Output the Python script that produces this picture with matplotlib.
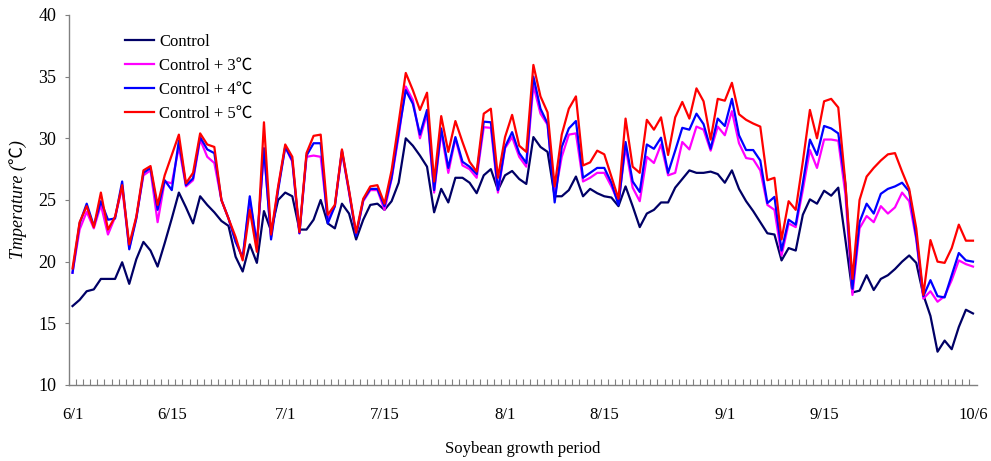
#!/usr/bin/env python3
"""
Temperatura diaria del periodo de crecimiento de la soja (control y calentamiento)
"""

import numpy as np
import pandas as pd
import matplotlib
matplotlib.use('Agg')
import matplotlib.pyplot as plt

# Días de 6/1 a 10/6
dates = pd.date_range('2015-06-01', '2015-10-06', freq='D')
day_labels = [f'{d.month}/{d.day}' for d in dates]

tick_labels = ['6/1', '6/15', '7/1', '7/15', '8/1', '8/15', '9/1', '9/15', '10/6']

control = [
    16.4, 16.9, 17.6, 17.75, 18.6, 18.6, 18.6, 19.95, 18.2, 20.2,
    21.6, 20.9, 19.6, 21.5, 23.5, 25.6, 24.4, 23.1, 25.3, 24.6,
    24.0, 23.3, 22.9, 20.4, 19.2, 21.4, 19.9, 24.1, 22.5, 25.0,
    25.6, 25.3, 22.6, 22.6, 23.4, 25.0, 23.1, 22.7, 24.7, 23.9,
    21.8, 23.4, 24.6, 24.7, 24.2, 24.9, 26.4, 30.0, 29.4, 28.6,
    27.7, 24.0, 25.9, 24.8, 26.8, 26.8, 26.4, 25.55, 27.0, 27.5,
    25.8, 27.0, 27.35, 26.7, 26.3, 30.1, 29.3, 28.9, 25.3, 25.3,
    25.8, 26.9, 25.3, 25.9, 25.55, 25.3, 25.2, 24.5, 26.1, 24.5,
    22.8, 23.9, 24.2, 24.8, 24.8, 26.0, 26.7, 27.4, 27.2, 27.2,
    27.3, 27.1, 26.4, 27.4, 25.9, 24.9, 24.1, 23.2, 22.3, 22.2,
    20.1, 21.1, 20.9, 23.8, 25.05, 24.7, 25.75, 25.35, 26.0, 21.8,
    17.5, 17.65, 18.9, 17.7, 18.6, 18.9, 19.4, 20.0, 20.5, 19.9,
    17.3, 15.6, 12.7, 13.6, 12.9, 14.7, 16.1, 15.8,
]

plus3 = [
    19.1, 22.6, 24.05, 22.7, 24.6, 22.2, 23.6, 26.0, 21.1, 23.6,
    27.0, 27.4, 23.2, 26.5, 26.35, 29.3, 26.1, 26.6, 29.9, 28.5,
    28.0, 25.0, 23.5, 21.7, 20.3, 25.0, 21.5, 29.0, 22.0, 26.0,
    29.3, 28.1, 22.3, 28.5, 28.6, 28.5, 23.4, 24.5, 28.9, 25.6,
    22.2, 24.9, 25.8, 25.8, 24.2, 26.7, 30.2, 34.2, 33.1, 30.0,
    32.0, 25.6, 30.5, 27.2, 30.0, 27.8, 27.5, 26.8, 30.9, 30.85,
    25.6, 29.2, 30.1, 28.5, 27.7, 34.3, 32.0, 31.1, 25.3, 28.5,
    30.3, 30.4, 26.5, 26.8, 27.2, 27.2, 26.1, 24.8, 29.3, 26.0,
    24.9, 28.5, 28.0, 29.5, 27.0, 27.2, 29.7, 29.1, 30.95, 30.7,
    29.0, 30.95, 30.25, 32.2, 29.6, 28.4, 28.3, 27.4, 24.6, 24.2,
    20.5, 23.1, 22.8, 25.8, 29.05, 27.6, 29.9, 29.9, 29.8, 25.5,
    17.3, 22.7, 23.7, 23.2, 24.5, 23.9, 24.4, 25.6, 24.9, 21.8,
    17.0, 17.6, 16.75, 17.2, 18.5, 20.1, 19.8, 19.6,
]

plus4 = [
    19.1, 23.1, 24.7, 22.9, 24.9, 23.4, 23.5, 26.5, 21.0, 23.5,
    27.2, 27.6, 24.2, 26.6, 25.8, 29.8, 26.2, 26.75, 30.1, 29.1,
    28.8, 25.0, 23.5, 21.6, 20.3, 25.3, 21.35, 29.2, 21.8, 25.8,
    29.3, 28.2, 22.3, 28.6, 29.6, 29.6, 23.1, 24.5, 29.0, 25.7,
    22.1, 25.0, 25.9, 25.9, 24.5, 26.8, 30.5, 33.9, 32.8, 30.3,
    32.3, 25.8, 30.8, 27.6, 30.1, 28.1, 27.7, 27.1, 31.35, 31.3,
    25.8, 29.3, 30.5, 28.8, 28.0, 35.0, 32.4, 31.2, 24.8, 29.3,
    30.8, 31.4, 26.8, 27.2, 27.6, 27.6, 26.4, 24.6, 29.7, 26.5,
    25.65, 29.5, 29.15, 30.05, 27.2, 29.0, 30.85, 30.7, 32.0, 31.15,
    29.15, 31.6, 31.0, 33.2, 30.25, 29.05, 29.05, 28.2, 24.75, 25.25,
    20.9, 23.4, 23.0, 26.35, 29.9, 28.65, 31.0, 30.8, 30.4, 26.3,
    17.8, 23.2, 24.7, 23.9, 25.5, 25.9, 26.1, 26.4, 25.7, 22.0,
    17.2, 18.5, 17.2, 17.1, 18.9, 20.7, 20.1, 20.0,
]

plus5 = [
    19.45, 23.2, 24.5, 22.8, 25.6, 22.6, 23.65, 26.2, 21.4, 23.65,
    27.4, 27.75, 24.6, 27.0, 28.65, 30.3, 26.35, 27.2, 30.4, 29.5,
    29.3, 25.0, 23.5, 22.0, 20.1, 24.2, 20.8, 31.3, 22.2, 26.1,
    29.5, 28.5, 22.4, 28.8, 30.2, 30.3, 23.8, 24.6, 29.1, 25.8,
    22.35, 25.1, 26.1, 26.2, 24.7, 27.4, 31.3, 35.3, 33.9, 32.3,
    33.7, 26.5, 31.8, 28.9, 31.4, 29.7, 28.1, 27.3, 32.0, 32.4,
    26.8, 30.1, 31.9, 29.4, 28.9, 35.95, 33.4, 32.1, 26.1, 30.3,
    32.4, 33.4, 27.8, 28.05, 29.0, 28.7, 26.9, 25.1, 31.6, 27.7,
    27.2, 31.5, 30.7, 31.7, 28.65, 31.7, 32.95, 31.6, 34.05, 33.0,
    29.9, 33.2, 33.05, 34.5, 31.95, 31.5, 31.2, 30.95, 26.6, 26.8,
    21.8, 24.9, 24.2, 28.1, 32.3, 30.0, 33.0, 33.2, 32.5, 26.4,
    18.6, 25.0, 26.9, 27.6, 28.2, 28.7, 28.8, 27.3, 25.9, 22.7,
    17.3, 21.75, 20.0, 19.9, 21.1, 23.0, 21.7, 21.7,
]

series_names = ['Control', 'Control + 3℃', 'Control + 4℃', 'Control + 5℃']
series_colors = ['#000066', '#FF00FF', '#0000FF', '#FF0000']

plt.rcParams['font.family'] = ['Liberation Serif', 'Noto Sans CJK SC']
plt.rcParams['font.size'] = 11

fig = plt.figure(figsize=(9.91, 4.61), dpi=100)
ax = fig.add_axes([0.0696, 0.1649, 0.9158, 0.8026])

x = np.arange(len(day_labels))
for vals, name, col in zip([control, plus3, plus4, plus5], series_names, series_colors):
    ax.plot(x, vals, color=col, linewidth=1.6, label=name)

ax.set_xlim(-0.5, len(day_labels) - 0.5)
ax.set_ylim(10, 40)
ax.set_yticks(np.arange(10, 41, 5))

# etiquetas de fecha sin marca, marcas pequeñas entre días
ax.set_xticks([day_labels.index(t) for t in tick_labels])
ax.set_xticklabels(tick_labels)
ax.set_xticks(np.arange(0.5, len(day_labels) - 0.5, 1), minor=True)
ax.tick_params(axis='x', which='major', length=0, pad=16)
ax.tick_params(axis='x', which='minor', direction='in', length=4.5,
               color='#808080', width=0.8)
ax.tick_params(axis='y', which='major', direction='out', length=3,
               color='#808080', width=0.8, pad=6, labelsize=13)
ax.tick_params(axis='x', labelsize=12)

for side in ['top', 'right']:
    ax.spines[side].set_visible(False)
for side in ['left', 'bottom']:
    ax.spines[side].set_color('#808080')
    ax.spines[side].set_linewidth(1.0)

ax.set_xlabel('Soybean growth period', fontsize=12, labelpad=13)
ax.set_ylabel('Tmperature (℃)', fontsize=13, fontstyle='italic', labelpad=8)

ax.legend(loc='upper left', bbox_to_anchor=(0.045, 0.99), frameon=False,
          handlelength=1.75, handletextpad=0.3, labelspacing=0.49, fontsize=12)

plt.savefig('out.png', dpi=100)
plt.close()
